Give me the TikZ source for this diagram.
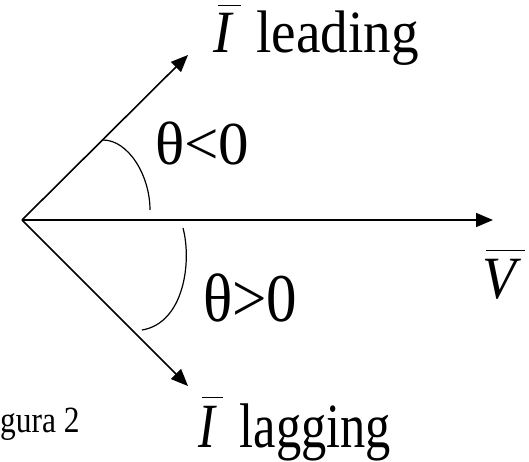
\documentclass[tikz,border=0pt]{standalone}
\usepackage{fontspec}
\setmainfont{Liberation Serif}
\usetikzlibrary{arrows.meta}
% barretta sopra una lettera: spostamento, lunghezza, lettera
\newcommand{\ovl}[3]{\rlap{\kern#1\raisebox{0.78em}{\rule{#2}{0.02em}}}{#3}}

\begin{document}
\begin{tikzpicture}[x=1pt, y=-1pt,
    fasore/.style={line width=1.6pt, -{Triangle[length=17pt,width=14pt]}},
    angolo/.style={line width=1.2pt},
    grande/.style={font=\fontsize{60}{60}\selectfont, inner sep=0pt, xscale=0.92},
    theta/.style={font=\fontsize{61}{61}\selectfont, inner sep=0pt},
    piccolo/.style={font=\fontsize{37}{37}\selectfont, inner sep=0pt, xscale=0.85}]
    \useasboundingbox (0,0) rectangle (529,462);

    % Origine e punte dei fasori
    \coordinate (O) at (22,220);
    \coordinate (Ilead) at (188,55);
    \coordinate (Vtip) at (493,220);
    \coordinate (Ilag) at (188,386);

    % Fasori
    \draw[fasore] (O) -- (Ilead);
    \draw[fasore] (O) -- (Vtip);
    \draw[fasore] (O) -- (Ilag);

    % Angoli
    \draw[angolo] (103,140) .. controls (128,140) and (150,175) .. (150,210);
    \draw[angolo] (183,228) .. controls (192,262) and (184,323) .. (142,330);

    % Etichette
    \node[grande, anchor=base west] (lead) at (213,53) {\ovl{0.08em}{0.42em}{\itshape I}\hspace{0.2em} leading};
    \node[theta, anchor=base west] (tneg) at (155,165) {θ<0};
    \node[theta, anchor=base west, yscale=1.12] (tpos) at (203,321) {θ>0};
    \node[grande, anchor=base west] (V) at (482,298) {\ovl{0.06em}{0.72em}{\itshape V}};
    \node[grande, anchor=base west, font=\fontsize{63}{63}\selectfont, xscale=0.87] (lag) at (198,447) {\ovl{0.07em}{0.42em}{\itshape I}\hspace{0.24em} lagging};
    \node[piccolo, anchor=base west] (fig) at (0,432) {gura 2};
\end{tikzpicture}
\end{document}
